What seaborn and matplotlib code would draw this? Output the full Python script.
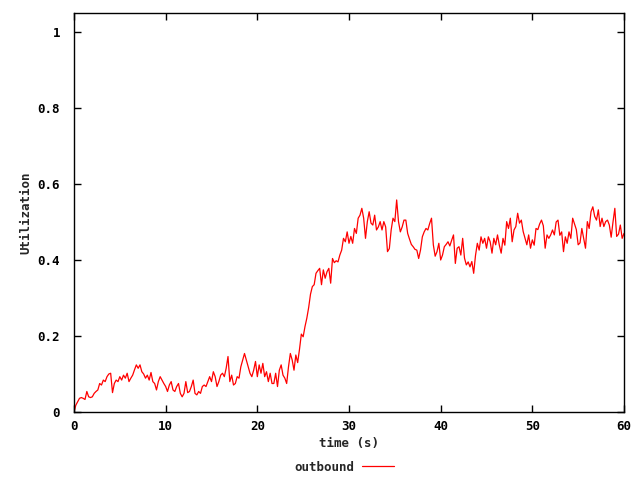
import numpy as np
import pandas as pd
import seaborn as sns
import matplotlib.pyplot as plt

# utilization samples, every 0.2 s
util_0_12 = [0.000, 0.018, 0.027, 0.036, 0.038, 0.036, 0.033, 0.054, 0.040, 0.038,
             0.040, 0.049, 0.054, 0.058, 0.075, 0.071, 0.084, 0.080, 0.093, 0.100,
             0.102, 0.051, 0.075, 0.084, 0.080, 0.093, 0.084, 0.097, 0.089, 0.102,
             0.080, 0.089, 0.097, 0.111, 0.124, 0.115, 0.124, 0.106, 0.100, 0.089,
             0.097, 0.084, 0.104, 0.080, 0.075, 0.058, 0.080, 0.093, 0.084, 0.075,
             0.067, 0.054, 0.071, 0.080, 0.058, 0.054, 0.067, 0.075, 0.049, 0.040,
             0.049]
util_12_24 = [0.080, 0.051, 0.054, 0.067, 0.084, 0.049, 0.045, 0.054, 0.049, 0.067,
              0.071, 0.067, 0.080, 0.093, 0.080, 0.106, 0.093, 0.067, 0.080, 0.097,
              0.102, 0.093, 0.115, 0.146, 0.080, 0.097, 0.071, 0.075, 0.093, 0.089,
              0.119, 0.137, 0.154, 0.137, 0.119, 0.102, 0.093, 0.110, 0.133, 0.093,
              0.124, 0.102, 0.128, 0.093, 0.106, 0.080, 0.102, 0.075, 0.075, 0.102,
              0.067, 0.110, 0.124, 0.097, 0.089, 0.075, 0.119, 0.154, 0.137, 0.110]
util_24_36 = [0.150, 0.130, 0.165, 0.205, 0.198, 0.225, 0.247, 0.275, 0.310, 0.330,
              0.335, 0.365, 0.372, 0.378, 0.335, 0.374, 0.352, 0.369, 0.378, 0.339,
              0.404, 0.393, 0.398, 0.395, 0.413, 0.426, 0.457, 0.448, 0.474, 0.444,
              0.462, 0.444, 0.483, 0.470, 0.510, 0.518, 0.536, 0.510, 0.457, 0.501,
              0.527, 0.497, 0.492, 0.518, 0.479, 0.487, 0.501, 0.479, 0.501, 0.487,
              0.422, 0.430, 0.479, 0.510, 0.501, 0.558, 0.501, 0.474, 0.487, 0.505]
util_36_48 = [0.505, 0.470, 0.455, 0.441, 0.435, 0.428, 0.426, 0.404, 0.426, 0.461,
              0.474, 0.483, 0.479, 0.496, 0.510, 0.440, 0.410, 0.422, 0.444, 0.400,
              0.413, 0.435, 0.441, 0.448, 0.437, 0.452, 0.466, 0.391, 0.431, 0.435,
              0.413, 0.457, 0.405, 0.387, 0.395, 0.382, 0.396, 0.365, 0.412, 0.444,
              0.426, 0.461, 0.444, 0.457, 0.431, 0.461, 0.448, 0.418, 0.457, 0.440,
              0.466, 0.439, 0.418, 0.457, 0.439, 0.501, 0.483, 0.510, 0.448, 0.479]
util_48_60 = [0.488, 0.523, 0.497, 0.505, 0.475, 0.457, 0.440, 0.466, 0.431, 0.453,
              0.439, 0.483, 0.480, 0.495, 0.505, 0.490, 0.431, 0.466, 0.457, 0.466,
              0.479, 0.466, 0.500, 0.505, 0.465, 0.474, 0.422, 0.461, 0.444, 0.474,
              0.457, 0.510, 0.495, 0.480, 0.440, 0.445, 0.483, 0.457, 0.431, 0.501,
              0.483, 0.527, 0.540, 0.515, 0.505, 0.532, 0.488, 0.510, 0.488, 0.501,
              0.505, 0.492, 0.460, 0.500, 0.536, 0.462, 0.468, 0.492, 0.457, 0.470]

x_ticks = [0, 10, 20, 30, 40, 50, 60]
y_ticks = [0, 0.2, 0.4, 0.6, 0.8, 1]
y_tick_labels = ["0", "0.2", "0.4", "0.6", "0.8", "1"]

util = util_0_12 + util_12_24 + util_24_36 + util_36_48 + util_48_60
time = np.round(np.arange(len(util)) * 0.2, 1)
df = pd.DataFrame({"time": time, "util": util})

sns.set_style("ticks")
plt.rcParams["font.family"] = ["DejaVu Sans Mono", "DejaVu Sans"]
plt.rcParams["font.weight"] = "bold"

fig = plt.figure(figsize=(6.4, 4.8), dpi=100)
ax = fig.add_axes([74 / 640, 1 - 412 / 480, 550 / 640, 399 / 480])

sns.lineplot(data=df, x="time", y="util", ax=ax, color="red", linewidth=0.9,
             label="outbound", legend=False)

ax.set_xlim(0, 60)
ax.set_ylim(0, 1.05)
ax.set_xticks(x_ticks)
ax.set_yticks(y_ticks)
ax.set_yticklabels(y_tick_labels)
ax.tick_params(direction="in", length=5, width=1, top=True, right=True,
               labelsize=9, colors="black")
ax.tick_params(axis="y", pad=10)
ax.tick_params(axis="x", pad=6)
for s in ax.spines.values():
    s.set_linewidth(1)
    s.set_color("black")

ax.set_xlabel("time (s)", fontsize=9, fontweight="bold", labelpad=3)
ax.set_ylabel("Utilization", fontsize=9, fontweight="bold", labelpad=4)

handles, labels = ax.get_legend_handles_labels()
fig.legend(handles, labels, loc="center", bbox_to_anchor=(0.5375, 0.027),
           frameon=False, markerfirst=False, fontsize=9, handlelength=2.6,
           handletextpad=0.6)

fig.savefig("out.png", dpi=100)
